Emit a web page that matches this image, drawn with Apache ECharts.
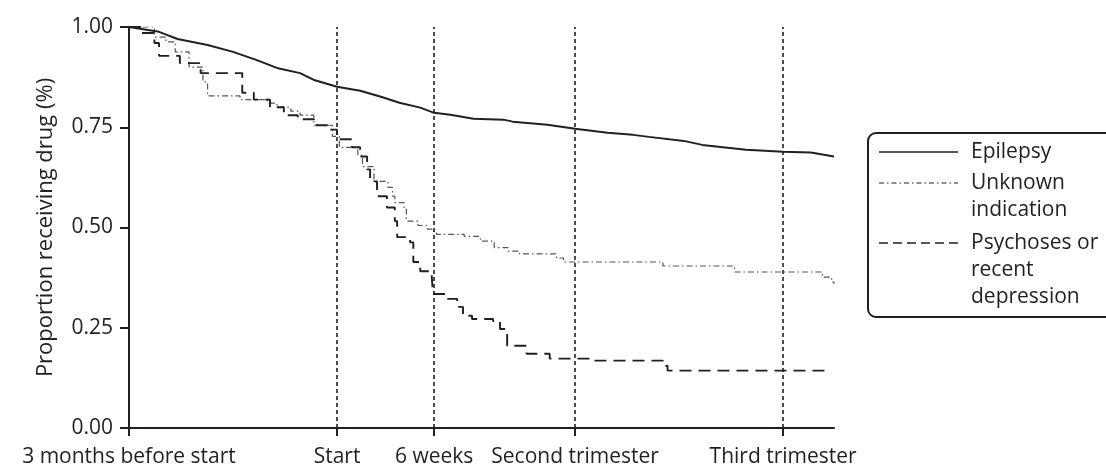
<!DOCTYPE html>
<html>
<head>
<meta charset="utf-8">
<script src="https://cdn.jsdelivr.net/npm/echarts@6/dist/echarts.min.js"></script>
<style>
html,body{margin:0;padding:0;background:#fff;}
#chart{width:1106px;height:468px;}
</style>
</head>
<body>
<div id="chart"></div>
<script>
// ---- data (x in days relative to pregnancy start) ----
var tickDays = [-90, 0, 42, 103, 193];
var tickLabels = ['3 months before start', 'Start', '6 weeks', 'Second trimester', 'Third trimester'];
var refLineDays = [0, 42, 103, 193];
var yTicks = ['0.00', '0.25', '0.50', '0.75', '1.00'];

var seriesNames = ['Epilepsy', 'Unknown\nindication', 'Psychoses or\nrecent\ndepression'];

var epilepsyDays = [-90, -77, -69, -56, -45, -35, -26, -16, -10, -7, 0, 10, 19, 27, 36, 42, 49, 59, 72, 76, 91, 103, 117, 128, 135, 150, 158, 177, 193, 205, 215];
var epilepsyVals = [1.000, 0.988, 0.970, 0.955, 0.938, 0.918, 0.898, 0.885, 0.868, 0.863, 0.851, 0.841, 0.826, 0.811, 0.799, 0.786, 0.781, 0.771, 0.769, 0.764, 0.756, 0.746, 0.736, 0.731, 0.726, 0.716, 0.706, 0.694, 0.689, 0.687, 0.677];

var unknownDays = [-90, -79, -74, -70, -64, -58, -56, -42, -30, -26, -20, -16, -10, -2, 1, 9, 11, 16, 22, 24, 25, 29, 30, 35, 39, 42, 43, 55, 62, 68, 74, 79, 95, 98, 141, 172, 210, 214, 215];
var unknownVals = [1.000, 0.975, 0.963, 0.938, 0.900, 0.863, 0.828, 0.819, 0.810, 0.800, 0.790, 0.780, 0.755, 0.727, 0.700, 0.680, 0.652, 0.615, 0.600, 0.578, 0.562, 0.545, 0.516, 0.505, 0.496, 0.488, 0.483, 0.478, 0.466, 0.450, 0.441, 0.434, 0.424, 0.414, 0.404, 0.389, 0.376, 0.364, 0.360];

var psychDays = [-90, -85, -79, -77, -68, -59, -41, -36, -29, -23, -17, -10, -3, 0, 6.5, 10, 13, 14.3, 17.3, 21.6, 25, 26, 31.6, 33, 36, 41, 41.5, 47.6, 52, 54.5, 58.4, 67.5, 70.5, 73.6, 82, 92, 111, 141, 143, 212];
var psychVals = [1.000, 0.985, 0.960, 0.928, 0.910, 0.885, 0.836, 0.819, 0.800, 0.780, 0.770, 0.755, 0.744, 0.720, 0.700, 0.677, 0.645, 0.615, 0.578, 0.550, 0.516, 0.476, 0.463, 0.414, 0.391, 0.376, 0.334, 0.322, 0.302, 0.280, 0.272, 0.267, 0.247, 0.205, 0.185, 0.173, 0.168, 0.155, 0.143, 0.140];

function zip(a, b) { return a.map(function (v, i) { return [v, b[i]]; }); }

var FONT = '"Open Sans", "Noto Sans", sans-serif';
var TXT = '#231f20';

var chart = echarts.init(document.getElementById('chart'), null, {renderer: 'canvas'});

var legendX = 868, legendY = 133;
var rowY = [152, 183, 243];

var graphics = [{
  type: 'rect', z: 10,
  shape: {x: legendX, y: legendY, width: 260, height: 184, r: 8},
  style: {fill: '#fff', stroke: TXT, lineWidth: 2}
}];
var legendDash = [null, [5, 3, 1.5, 3], [9, 5]];
var legendW = [1.6, 1.2, 1.6];
for (var i = 0; i < 3; i++) {
  graphics.push({
    type: 'line', z: 11,
    shape: {x1: 879, y1: rowY[i], x2: 958, y2: rowY[i]},
    style: {stroke: TXT, lineWidth: legendW[i], lineDash: legendDash[i]}
  });
  graphics.push({
    type: 'text', z: 11,
    style: {x: 971, y: rowY[i] - 13.5, text: seriesNames[i], fill: TXT, font: '21px ' + FONT,
      lineHeight: 27, verticalAlign: 'top', align: 'left'}
  });
}

var option = {
  animation: false,
  backgroundColor: '#fff',
  textStyle: {fontFamily: FONT, color: TXT},
  grid: {left: 129, right: 272, top: 27, bottom: 38.5, containLabel: false},
  xAxis: {
    type: 'value', min: -90, max: 215,
    axisLine: {show: true, onZero: false, lineStyle: {color: TXT, width: 2}},
    axisTick: {show: true, customValues: tickDays, length: 8, lineStyle: {color: TXT, width: 2}},
    axisLabel: {show: true, customValues: tickDays, margin: 19, fontSize: 21, color: TXT, fontFamily: FONT,
      formatter: function (v) { var k = tickDays.indexOf(v); return k >= 0 ? tickLabels[k] : ''; }},
    splitLine: {show: false}
  },
  yAxis: {
    type: 'value', min: 0, max: 1, interval: 0.25,
    name: 'Proportion receiving drug (%)', nameLocation: 'middle', nameGap: 72,
    nameTextStyle: {fontSize: 22, color: TXT, fontFamily: FONT},
    axisLine: {show: true, onZero: false, lineStyle: {color: TXT, width: 2}},
    axisTick: {show: true, length: 9, lineStyle: {color: TXT, width: 2}},
    axisLabel: {margin: 16, fontSize: 21, color: TXT, fontFamily: FONT,
      formatter: function (v) { return yTicks[Math.round(v * 4)]; }},
    splitLine: {show: false}
  },
  graphic: graphics,
  series: [{
    name: seriesNames[0], type: 'line', data: zip(epilepsyDays, epilepsyVals),
    symbol: 'none', lineStyle: {color: TXT, width: 2}, z: 5,
    markLine: {
      silent: true, symbol: 'none', label: {show: false},
      lineStyle: {color: TXT, width: 1.6, type: [4, 3]},
      data: refLineDays.map(function (d) { return {xAxis: d}; })
    }
  }, {
    name: seriesNames[1], type: 'line', step: 'end', data: zip(unknownDays, unknownVals),
    symbol: 'none', lineStyle: {color: '#555', width: 1.2, type: [6, 3, 1.5, 3]}, z: 4
  }, {
    name: seriesNames[2], type: 'line', step: 'end', data: zip(psychDays, psychVals),
    symbol: 'none', lineStyle: {color: TXT, width: 1.9, type: [12, 7]}, z: 4
  }]
};
chart.setOption(option);
</script>
</body>
</html>
